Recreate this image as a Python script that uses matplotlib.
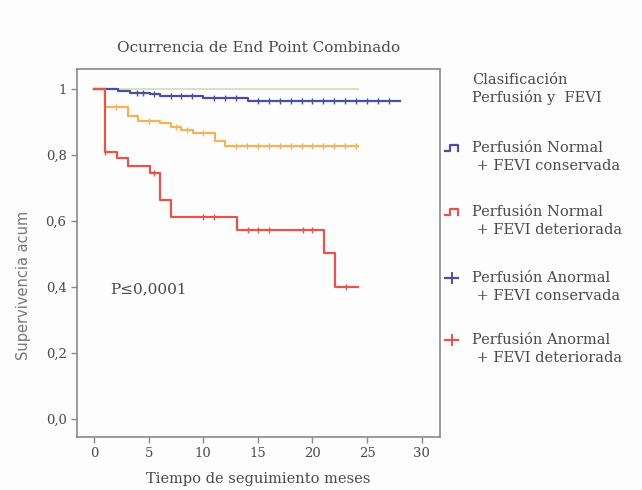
import matplotlib.pyplot as plt
from matplotlib.lines import Line2D

plt.rcParams['font.family'] = ['DejaVu Serif']

# Kaplan-Meier steps (time in months, survival)
t_blue = [0, 2.2, 3.3, 5.1, 6.0, 10.0, 14.1, 28.0]
s_blue = [1.0, 0.995, 0.99, 0.985, 0.978, 0.972, 0.965, 0.965]
cens_blue = [3.9, 4.5, 5.5, 7.0, 8.0, 9.0, 11.0, 12.0, 13.0, 15.0, 16.0, 17.0,
             18.0, 19.0, 20.0, 21.0, 22.0, 23.0, 24.0, 25.0, 26.0, 27.0]

t_green = [0, 24.2]
s_green = [1.0, 1.0]

t_orange = [0, 1.0, 3.1, 4.0, 6.0, 7.0, 8.0, 9.1, 11.1, 12.0, 24.2]
s_orange = [1.0, 0.946, 0.92, 0.903, 0.897, 0.886, 0.876, 0.868, 0.842, 0.827, 0.827]
cens_orange = [2.0, 5.0, 7.5, 8.5, 10.0, 13.0, 14.0, 15.0, 16.0, 17.0, 18.0,
               19.0, 20.0, 21.0, 22.0, 23.0, 24.0]

t_red = [0, 1.0, 2.1, 3.1, 5.1, 6.0, 7.0, 13.05, 21.1, 22.1, 24.2]
s_red = [1.0, 0.81, 0.79, 0.767, 0.746, 0.664, 0.613, 0.573, 0.504, 0.401, 0.401]
cens_red = [1.0, 5.5, 10.0, 11.0, 14.1, 15.0, 16.0, 19.1, 20.0, 23.1]

xticks = [0, 5, 10, 15, 20, 25, 30]
yticks = [0.0, 0.2, 0.4, 0.6, 0.8, 1.0]
ytick_labels = ['0,0', '0,2', '0,4', '0,6', '0,8', '1']

legend_title = 'Clasificación\nPerfusión y  FEVI'
legend_labels = ['Perfusión Normal\n + FEVI conservada',
                 'Perfusión Normal\n + FEVI deteriorada',
                 'Perfusión Anormal\n + FEVI conservada',
                 'Perfusión Anormal\n + FEVI deteriorada']

c_blue = '#4b4f9c'
c_red = '#e5544a'
c_orange = '#f2b45a'
c_green = '#d9dcc0'
c_text = '#4a4a4a'
c_frame = '#8a8a8a'

fig = plt.figure(figsize=(6.42, 4.9), dpi=100)
fig.patch.set_facecolor('#fdfdfd')
ax = fig.add_axes([0.12, 0.108, 0.565, 0.751])
ax.set_facecolor('#fdfdfd')


def level_at(ts, ss, x):
    v = ss[0]
    for t, s in zip(ts, ss):
        if t <= x:
            v = s
    return v


def km(ts, ss, cens, color, lw=1.6):
    ax.step(ts, ss, where='post', color=color, lw=lw)
    ys = [level_at(ts, ss, c) for c in cens]
    ax.plot(cens, ys, ls='none', marker='|', ms=5, mew=1.0, color=color)


km(t_green, s_green, [], c_green, lw=1.3)
km(t_blue, s_blue, cens_blue, c_blue)
km(t_orange, s_orange, cens_orange, c_orange)
km(t_red, s_red, cens_red, c_red)

ax.set_xlim(-1.56, 31.66)
ax.set_ylim(-0.055, 1.061)
ax.set_xticks(xticks)
ax.set_xticklabels([str(x) for x in xticks])
ax.set_yticks(yticks)
ax.set_yticklabels(ytick_labels)
ax.tick_params(colors=c_frame, labelcolor=c_text, labelsize=9.5, length=4, width=1)
for sp in ax.spines.values():
    sp.set_color(c_frame)
    sp.set_linewidth(1.2)

ax.set_title('Ocurrencia de End Point Combinado', fontsize=11, color=c_text, pad=12)
ax.set_xlabel('Tiempo de seguimiento meses', fontsize=10.5, color=c_text)
ax.xaxis.set_label_coords(0.5, -0.095)
ax.set_ylabel('Supervivencia acum', fontsize=10.5, color='#777777',
              family=['DejaVu Sans'])
ax.yaxis.set_label_coords(-0.127, 0.413)

ax.text(1.5, 0.393, 'P≤0,0001', fontsize=11, color=c_text, va='center')

# legend on the right
fig.text(472 / 642, 1 - 89 / 490, legend_title,
         fontsize=10.5, color=c_text, va='center', linespacing=1.3)
leg_y = [157, 221, 287, 349]
colors = [c_blue, c_red, c_blue, c_red]
for i, (lab, yy) in enumerate(zip(legend_labels, leg_y)):
    fy = 1 - yy / 490
    fig.text(472 / 642, fy, lab, fontsize=10.5, color=c_text, va='center',
             linespacing=1.3)
    x0 = 445 / 642
    sy = 1 - (yy - 9) / 490
    if i < 2:
        xs = [x0, x0 + 5 / 642, x0 + 5 / 642, x0 + 13 / 642, x0 + 13 / 642]
        ys = [sy - 3 / 490, sy - 3 / 490, sy + 3 / 490, sy + 3 / 490, sy - 3 / 490]
        fig.add_artist(Line2D(xs, ys, color=colors[i], lw=1.6))
    else:
        fig.add_artist(Line2D([x0, x0 + 13 / 642], [sy, sy], color=colors[i], lw=1.6))
        fig.add_artist(Line2D([x0 + 6.5 / 642, x0 + 6.5 / 642], [sy - 5 / 490, sy + 5 / 490],
                              color=colors[i], lw=1.4))

fig.savefig('out.png', dpi=100, facecolor=fig.get_facecolor())
